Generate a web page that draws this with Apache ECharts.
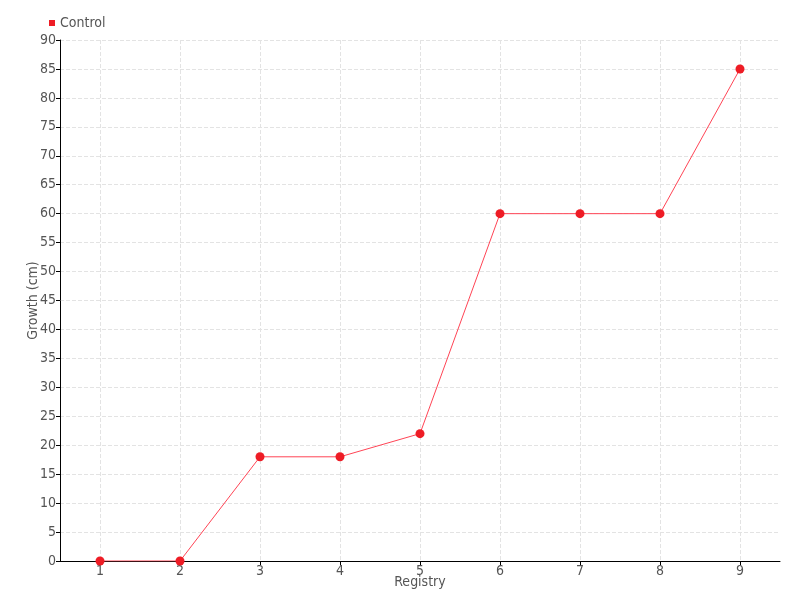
<!DOCTYPE html>
<html><head><meta charset="utf-8">
<script src="https://cdn.jsdelivr.net/npm/echarts@6/dist/echarts.min.js"></script>
<style>html,body{margin:0;padding:0;background:#fff}#c{width:800px;height:600px}</style>
</head><body><div id="c"></div>
<script>
const categories = ['1','2','3','4','5','6','7','8','9'];
const controlValues = [0, 0, 18, 18, 22, 60, 60, 60, 85];
const seriesName = 'Control';
const FONT = '"DejaVu Sans Condensed", "DejaVu Sans", sans-serif';
const chart = echarts.init(document.getElementById('c'));
chart.setOption({
  animation: false,
  textStyle: {fontFamily: FONT},
  legend: {
    data: [seriesName], left: 44, top: 11, icon: 'rect', itemWidth: 6, itemHeight: 6, itemGap: 3,
    textStyle: {fontFamily: FONT, fontSize: 14, color: '#555'}
  },
  grid: {left: 60, top: 40, width: 720, height: 521},
  xAxis: {
    type: 'category', data: categories, boundaryGap: true,
    name: 'Registry', nameLocation: 'middle', nameGap: 14, nameMoveOverlap: false,
    nameTextStyle: {fontFamily: FONT, fontSize: 14, color: '#555'},
    axisLine: {lineStyle: {color: '#000'}},
    axisTick: {show: true, alignWithLabel: true, length: 4, lineStyle: {color: '#000'}},
    axisLabel: {fontFamily: FONT, fontSize: 14, color: '#555', margin: 3},
    splitLine: {show: true, alignWithLabel: true, lineStyle: {type: 'dashed', color: '#e3e3e3'}}
  },
  yAxis: {
    type: 'value', min: 0, max: 90, interval: 5,
    name: 'Growth (cm)', nameLocation: 'middle', nameGap: 20, nameMoveOverlap: false,
    nameTextStyle: {fontFamily: FONT, fontSize: 14, color: '#555'},
    axisLine: {show: true, lineStyle: {color: '#000'}},
    axisTick: {show: true, length: 4, lineStyle: {color: '#000'}},
    axisLabel: {fontFamily: FONT, fontSize: 14, color: '#555', margin: 4},
    splitLine: {show: true, lineStyle: {type: 'dashed', color: '#e3e3e3'}}
  },
  series: [{
    name: seriesName, type: 'line', data: controlValues,
    symbol: 'circle', symbolSize: 9,
    itemStyle: {color: '#ee1c25'},
    lineStyle: {color: '#ff4455', width: 1}
  }]
});
</script></body></html>
